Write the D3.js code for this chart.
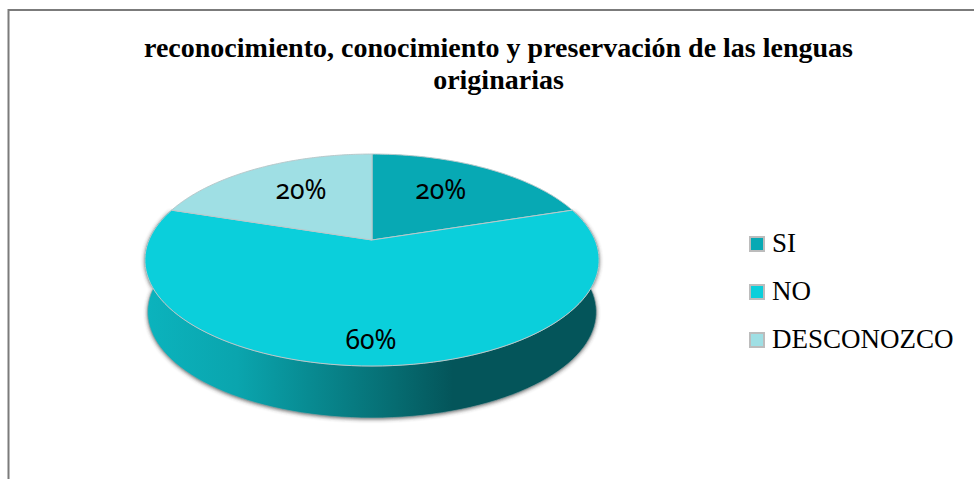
<!DOCTYPE html>
<html><head><meta charset="utf-8"><style>html,body{margin:0;background:#fff;overflow:hidden}svg{display:block}</style>
<script src="https://cdn.jsdelivr.net/npm/d3@7"></script></head><body><svg id="c" width="974" height="479"></svg>
<script>
const titleLines = ["reconocimiento, conocimiento y preservación de las lenguas", "originarias"];
const categories = ["SI", "NO", "DESCONOZCO"];
const values = [20, 60, 20];
const colors = ["#07a9b4", "#0bcfdb", "#9fdfe4"];
const labelRadii = [0.6, 0.83, 0.6];
const labelBaselines = [4.5, 8.5, 4.5];

const svg = d3.select("#c");
const defs = svg.append("defs");
const grad = defs.append("linearGradient").attr("id","wall").attr("gradientUnits","userSpaceOnUse")
  .attr("x1",147).attr("x2",597).attr("y1",0).attr("y2",0);
[[0,"#0bb3bd"],[0.2,"#0aa5ae"],[0.36,"#088b92"],[0.55,"#066c71"],[0.68,"#04555a"],[1,"#04555a"]]
  .forEach(([o,c])=>grad.append("stop").attr("offset",o).attr("stop-color",c));
const blur = defs.append("filter").attr("id","blur").attr("x","-5%").attr("y","-10%").attr("width","110%").attr("height","120%");
blur.append("feGaussianBlur").attr("stdDeviation",2);

// frame
svg.append("path").attr("d","M8.5,479V10H974").attr("fill","none").attr("stroke","#7b7b7b").attr("stroke-width",2);

// title
svg.append("g").selectAll("text").data(titleLines).join("text")
  .attr("x",498.5).attr("y",(d,i)=>57+i*32).attr("text-anchor","middle")
  .attr("font-family","'Liberation Serif'").attr("font-weight","bold").attr("font-size",28).attr("fill","#000").text(d=>d);

// perspective pie
const cx=372, cy=240, A=223, B=102.2, K=0.189, depth=52;
const proj=(a,r=1,dy=0,s=1)=>{const u=r*Math.sin(a),v=r*Math.cos(a),w=1+K*v;return [cx+s*A*u/w,cy+dy-B*v/w];};
const line=d3.line();
const samples=(a0,a1,dy=0,s=1)=>d3.range(0,101).map(i=>proj(a0+(a1-a0)*i/100,1,dy,s));
const slices=d3.pie().sort(null).value(d=>d)(values);
const front=slices[1];

const wallPath=line(samples(front.startAngle,front.endAngle).concat(samples(front.endAngle,front.startAngle,depth,0.988)))+"Z";
svg.append("path").attr("d",wallPath).attr("fill","#333").attr("opacity",.8).attr("filter","url(#blur)").attr("transform","translate(0,1)");
svg.append("path").attr("d",wallPath).attr("fill","url(#wall)").attr("stroke","#8fa5a7").attr("stroke-width",.6);

svg.append("g").selectAll("path").data(slices).join("path")
  .attr("d",d=>line([[cx,cy]].concat(samples(d.startAngle,d.endAngle)))+"Z")
  .attr("fill",(d,i)=>colors[i]).attr("stroke","#b9c9cb").attr("stroke-width",1).attr("stroke-linejoin","round");

// data labels
svg.append("g").selectAll("text").data(slices).join("text")
  .each(function(d,i){const p=proj((d.startAngle+d.endAngle)/2,labelRadii[i]);
    d3.select(this).attr("x",cx-1+(p[0]-cx)*0.97).attr("y",p[1]+labelBaselines[i]);})
  .attr("text-anchor","middle").attr("font-family","'Noto Sans'").attr("font-size",26.5)
  .style("font-feature-settings","'onum' 1").attr("fill","#000")
  .text(d=>d3.format(".0%")(d.value/d3.sum(values)));

// legend
const ly=d3.scalePoint().domain(categories).range([244,340]);
const lg=svg.append("g").selectAll("g").data(categories).join("g").attr("transform",d=>`translate(749,${ly(d)})`);
lg.append("rect").attr("x",1).attr("y",-7).attr("width",14).attr("height",14)
  .attr("fill",(d,i)=>colors[i]).attr("stroke","#bcbcbc").attr("stroke-width",2);
lg.append("text").attr("x",23).attr("y",8).attr("font-family","'Liberation Serif'").attr("font-size",27).attr("fill","#000").text(d=>d);
</script></body></html>
